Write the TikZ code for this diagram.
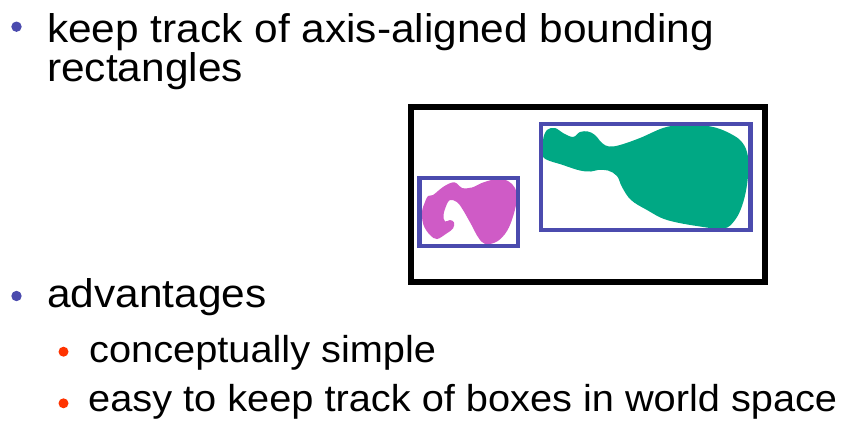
\documentclass[tikz,border=0pt]{standalone}
\usepackage{fontspec}
\setmainfont[FakeStretch=1.06]{Liberation Sans}
\definecolor{dot}{HTML}{4B4BAE}
\definecolor{subdot}{HTML}{FF3300}
\definecolor{bbox}{HTML}{4B4BAE}
\definecolor{blobA}{HTML}{CF5BC6}
\definecolor{blobB}{HTML}{00A884}

\begin{document}
\begin{tikzpicture}[x=1pt,y=-1pt,
  item/.style={anchor=base west,inner sep=0pt,font=\fontsize{40}{40}\selectfont},
  subitem/.style={anchor=base west,inner sep=0pt,font=\fontsize{37.5}{38}\selectfont}]
  \useasboundingbox (0,0) rectangle (844,424);

  % Bullet list: two top items, two sub items.
  \foreach \y in {26.7,296} {
    \fill[dot] (16.5,\y) circle (5.2pt);
  }
  \foreach \y in {351.7,403.3} {
    \fill[subdot] (63.5,\y) circle (5pt);
  }
  \node[item] (track) at (47,42) {keep track of axis-aligned bounding};
  \node[item] (rects) at (47,81) {rectangles};
  \node[item] (adv) at (47,307.5) {advantages};
  \node[subitem] (simple) at (89,362) {conceptually simple};
  \node[subitem] (easy) at (88,411.5) {easy to keep track of boxes in world space};

  % World frame with two objects and their boxes.
  \draw[line width=6pt] (410.5,107) rectangle (764.5,282);

  \fill[blobA] plot[smooth cycle,tension=0.6] coordinates {
    (422,212) (425,202) (428,196) (433,195) (443,187) (452,182.5) (457,183.5)
    (462,188) (472,187.5) (483,182.5) (497,179) (508,181) (515,188) (517,198)
    (513.5,215) (507,231) (497,241.5) (485,244) (478,237) (471.5,225) (463,210)
    (457,202) (450,200) (446.5,205) (443.5,215) (445,221.5) (450,220) (454,222.5)
    (453,228.5) (446.5,233.5) (437,239) (430,235) (423.5,225)};
  \draw[bbox,line width=4.3pt] (419.5,178) rectangle (518,246);

  \fill[blobB] plot[smooth cycle,tension=0.6] coordinates {
    (543,140) (547,130) (555,128) (563,133) (573,137) (580,132) (588,131.5)
    (595,135) (602,143) (609,146.5) (620,145) (640,138) (663,128) (680,125)
    (700,125) (717,128) (731,134) (741,141) (747,152) (748.5,168) (746.5,188)
    (742,206) (735,220) (724,228.5) (700,226.5) (667,220) (647,210) (631,200)
    (622,187) (617,176) (608,170.5) (598,170) (591,171.5) (580,170.5) (563,165)
    (543,157)};
  \draw[bbox,line width=4.3pt] (541,124) rectangle (750.5,230);
\end{tikzpicture}
\end{document}
